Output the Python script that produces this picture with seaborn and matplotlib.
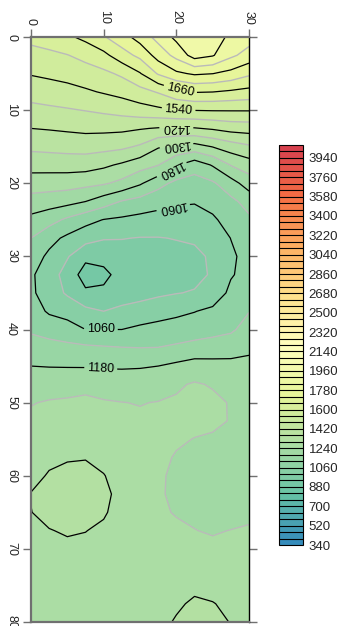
import numpy as np
import matplotlib
matplotlib.use("Agg")
import matplotlib.pyplot as plt
import seaborn as sns

# grid: x along the top axis, y down the side
x_vals = [0, 2.5, 5, 7.5, 10, 12.5, 15, 17.5, 20, 22.5, 25, 27.5, 30]
y_vals = list(np.arange(0, 80.1, 2.5))

# one column of values per x position (top to bottom, y = 0 ... 80)
z_x00 = [1616, 1580, 1544, 1504, 1463, 1420, 1373, 1323, 1270, 1216, 1164, 1120, 1090, 1068, 1070, 1088, 1112,
         1145, 1180, 1208, 1237, 1252, 1262, 1275, 1283, 1302, 1299, 1285, 1276, 1271, 1268, 1266, 1265]
z_x02 = [1625, 1589, 1552, 1512, 1469, 1424, 1377, 1324, 1268, 1208, 1142, 1079, 1048, 1030, 1032, 1052, 1097,
         1141, 1178, 1212, 1245, 1258, 1270, 1288, 1305, 1318, 1315, 1298, 1285, 1276, 1270, 1267, 1265]
z_x05 = [1650, 1598, 1561, 1520, 1475, 1429, 1381, 1326, 1265, 1199, 1109, 1048, 1005, 975, 992, 1040, 1082,
         1136, 1177, 1217, 1248, 1262, 1276, 1296, 1312, 1324, 1320, 1305, 1290, 1279, 1272, 1268, 1266]
z_x07 = [1675, 1618, 1573, 1532, 1482, 1434, 1384, 1325, 1257, 1180, 1080, 1022, 954, 915, 950, 1015, 1060,
         1131, 1176, 1225, 1251, 1264, 1278, 1298, 1312, 1320, 1318, 1301, 1290, 1281, 1275, 1270, 1267]
z_x10 = [1715, 1644, 1587, 1545, 1491, 1434, 1379, 1311, 1247, 1148, 1058, 1004, 960, 925, 952, 1000, 1060,
         1126, 1174, 1215, 1245, 1257, 1270, 1286, 1302, 1312, 1305, 1292, 1284, 1278, 1273, 1270, 1268]
z_x12 = [1755, 1695, 1610, 1559, 1502, 1432, 1372, 1291, 1225, 1116, 1050, 1002, 975, 962, 972, 1013, 1060,
         1122, 1174, 1209, 1241, 1252, 1262, 1272, 1280, 1284, 1282, 1278, 1276, 1275, 1274, 1273, 1272]
z_x15 = [1805, 1735, 1656, 1579, 1516, 1424, 1352, 1265, 1188, 1098, 1042, 998, 975, 966, 980, 1023, 1072,
         1120, 1176, 1207, 1238, 1248, 1255, 1260, 1262, 1263, 1264, 1266, 1268, 1270, 1272, 1274, 1276]
z_x17 = [1860, 1804, 1726, 1605, 1527, 1416, 1305, 1242, 1140, 1081, 1037, 998, 980, 975, 990, 1035, 1080,
         1121, 1180, 1213, 1242, 1247, 1250, 1249, 1246, 1245, 1247, 1252, 1258, 1264, 1270, 1278, 1285]
z_x20 = [1915, 1858, 1769, 1642, 1541, 1411, 1289, 1185, 1105, 1068, 1034, 1002, 985, 982, 998, 1046, 1087,
         1129, 1193, 1233, 1246, 1248, 1245, 1237, 1232, 1232, 1237, 1248, 1258, 1268, 1280, 1292, 1305]
z_x22 = [1960, 1925, 1788, 1664, 1542, 1416, 1276, 1146, 1096, 1064, 1035, 1007, 988, 985, 1004, 1058, 1093,
         1139, 1207, 1245, 1252, 1250, 1239, 1230, 1226, 1227, 1232, 1241, 1255, 1270, 1288, 1308, 1322]
z_x25 = [1945, 1905, 1781, 1661, 1544, 1427, 1302, 1185, 1112, 1080, 1051, 1025, 1008, 1006, 1022, 1073, 1099,
         1149, 1200, 1236, 1250, 1248, 1235, 1225, 1220, 1220, 1225, 1236, 1250, 1266, 1284, 1302, 1315]
z_x27 = [1880, 1852, 1762, 1651, 1544, 1442, 1330, 1243, 1155, 1106, 1083, 1061, 1050, 1055, 1074, 1094, 1110,
         1158, 1195, 1225, 1237, 1238, 1230, 1222, 1218, 1218, 1222, 1241, 1252, 1265, 1278, 1290, 1298]
z_x30 = [1865, 1817, 1731, 1641, 1544, 1446, 1351, 1271, 1209, 1141, 1110, 1090, 1080, 1080, 1090, 1118, 1145,
         1173, 1190, 1200, 1208, 1213, 1217, 1219, 1221, 1225, 1232, 1244, 1254, 1262, 1267, 1270, 1272]

x_ticks = [0, 10, 20, 30]
y_ticks = [0, 10, 20, 30, 40, 50, 60, 70, 80]
cbar_ticks = list(range(340, 4000, 180))
label_levels = [1060, 1180, 1300, 1420, 1540, 1660]
label_spots = [(20.5, 7.4), (20.3, 10.0), (20.0, 12.3), (20.0, 14.6), (19.3, 18.0),
               (19.5, 23.0), (9.6, 40.0), (9.6, 45.3)]

sns.set_style("white")
plt.rcParams["font.family"] = ["Liberation Sans", "DejaVu Sans"]

Z = np.column_stack([z_x00, z_x02, z_x05, z_x07, z_x10, z_x12, z_x15,
                     z_x17, z_x20, z_x22, z_x25, z_x27, z_x30])

levels = np.arange(340, 4061, 60)
cmap = sns.blend_palette(["#3288BD", "#66C2A5", "#ABDDA4", "#E6F598", "#FFFFBF",
                          "#FEE08B", "#FDAE61", "#F46D43", "#D53E4F"], as_cmap=True)

fig = plt.figure(figsize=(3.37, 6.26), dpi=100)
ax = fig.add_axes([31 / 337, 4 / 626, 218 / 337, 585 / 626])
cax = fig.add_axes([279 / 337, 81 / 626, 24 / 337, 400 / 626])

cf = ax.contourf(x_vals, y_vals, Z, levels=levels, cmap=cmap, vmin=340, vmax=4060)
ax.contour(x_vals, y_vals, Z, levels=np.arange(400, 4061, 120), colors="#bababa", linewidths=1.0)

# black lines every 120; the labelled ones drawn on their own so clabel can cut them
black_levels = [v for v in np.arange(340, 4061, 120) if v not in label_levels]
ax.contour(x_vals, y_vals, Z, levels=black_levels, colors="black", linewidths=0.9)
cs = ax.contour(x_vals, y_vals, Z, levels=label_levels, colors="black", linewidths=0.9)

ax.set_xlim(0, 30)
ax.set_ylim(80, 0)

labels = ax.clabel(cs, manual=label_spots, fmt="%d", fontsize=9, inline=True, inline_spacing=3)
for t in labels:
    px, py = t.get_position()
    # the labels in the upper band read upside down
    if py < 26 and px > 15 and int(float(t.get_text())) <= 1420:
        t.set_rotation(t.get_rotation() + 180)

ax.xaxis.tick_top()
ax.set_xticks(x_ticks)
ax.set_yticks(y_ticks)
ax.tick_params(axis="x", top=True, bottom=False, length=6, width=1, color="#707070",
               labelsize=9, pad=3)
ax.tick_params(axis="y", left=True, right=True, length=6, width=1, color="#707070",
               labelsize=9, pad=4)
for t in ax.get_xticklabels():
    t.set_rotation(-90)
    t.set_va("bottom")
    t.set_ha("center")
for t in ax.get_yticklabels():
    t.set_rotation(-90)
    t.set_va("center")
    t.set_ha("right")

for side in ["left", "top", "bottom"]:
    ax.spines[side].set_color("#707070")
    ax.spines[side].set_linewidth(1.6)
ax.spines["right"].set_color("black")
ax.spines["right"].set_linewidth(1.0)

cb = fig.colorbar(cf, cax=cax, ticks=cbar_ticks, drawedges=True)
cb.outline.set_edgecolor("black")
cb.outline.set_linewidth(0.8)
cb.dividers.set_color("black")
cb.dividers.set_linewidth(0.8)
cax.tick_params(length=0, labelsize=9.5, pad=4)

fig.savefig("out.png", dpi=100)
